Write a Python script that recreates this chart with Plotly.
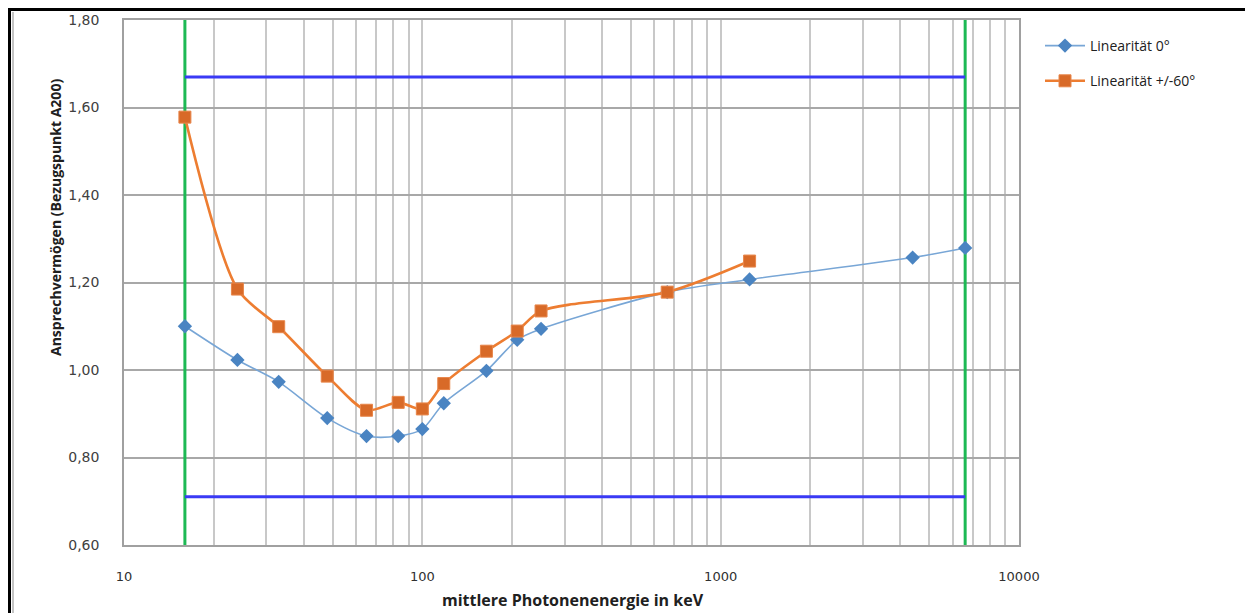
import plotly.graph_objects as go

# ---------------- data ----------------
energy_0 = [16, 24, 33, 48, 65, 83, 100, 118, 164, 208, 250, 662, 1250, 4400, 6600]
resp_0 = [1.10, 1.023, 0.973, 0.890, 0.849, 0.849, 0.865, 0.924, 0.998, 1.069, 1.094, 1.178, 1.207, 1.257, 1.279]

energy_60 = [16, 24, 33, 48, 65, 83, 100, 118, 164, 208, 250, 662, 1250]
resp_60 = [1.578, 1.185, 1.099, 0.986, 0.908, 0.926, 0.911, 0.969, 1.043, 1.089, 1.135, 1.178, 1.249]

limit_energy = [16, 6600]
limit_upper = [1.67, 1.67]
limit_lower = [0.71, 0.71]
limit_resp_range = [0.60, 1.80]

x_tick_vals = [10, 100, 1000, 10000]
x_tick_text = ["10", "100", "1000", "10000"]
y_tick_vals = [0.60, 0.80, 1.00, 1.20, 1.40, 1.60, 1.80]

series_names = ["Linearität 0°", "Linearität +/-60°"]
x_title = "mittlere Photonenenergie in keV"
y_title = "Ansprechvermögen (Bezugspunkt A200)"

# ---------------- layout helpers (page pixel coords, body margin 8px) ----------------
OFF = 8
W, H = 1253 - OFF, 613 - OFF
L, R, T, B = 124 - OFF, 1019 - OFF, 20 - OFF, 545 - OFF


def px(x):
    return (x - OFF - L) / (R - L)


def py(y):
    return (B - (y - OFF)) / (B - T)


# grid values incl. minor decades
grid_vals = []
grid_text = []
for dec in [10, 100, 1000]:
    for m in range(1, 10):
        v = dec * m
        grid_vals.append(v)
        grid_text.append(x_tick_text[x_tick_vals.index(v)] if v in x_tick_vals else "")
grid_vals.append(10000)
grid_text.append("10000")

fig = go.Figure()

# limit lines (green verticals, blue horizontals)
for e in limit_energy:
    fig.add_trace(go.Scatter(x=[e, e], y=limit_resp_range, mode="lines",
                             line=dict(color="#1DB954", width=3),
                             showlegend=False, hoverinfo="skip"))
fig.add_trace(go.Scatter(x=limit_energy, y=limit_upper, mode="lines",
                         line=dict(color="#3A3AF5", width=3),
                         showlegend=False, hoverinfo="skip"))
fig.add_trace(go.Scatter(x=limit_energy, y=limit_lower, mode="lines",
                         line=dict(color="#3A3AF5", width=3),
                         showlegend=False, hoverinfo="skip"))

fig.add_trace(go.Scatter(
    x=energy_0, y=resp_0, mode="lines+markers", name=series_names[0],
    line=dict(color="#78A6D6", width=1.6, shape="spline", smoothing=0.8),
    marker=dict(symbol="diamond", size=11, color="#4A84C2"),
    legendgroup="a"))
fig.add_trace(go.Scatter(
    x=energy_60, y=resp_60, mode="lines+markers", name=series_names[1],
    line=dict(color="#ED7D31", width=2.6, shape="spline", smoothing=0.8),
    marker=dict(symbol="square", size=12, color="#D86A28",
                line=dict(color="#E8864A", width=1)),
    legendgroup="b"))

fig.update_layout(
    width=W, height=H,
    margin=dict(l=L, r=W - R, t=T, b=H - B, autoexpand=False),
    paper_bgcolor="white", plot_bgcolor="white",
    font=dict(family="DejaVu Sans, sans-serif", size=14, color="#404040"),
    separators=",.",
    showlegend=True,
    legend=dict(x=px(1040), y=py(30), xanchor="left", yanchor="top",
                font=dict(size=14, color="#202020", family="Open Sans, sans-serif"),
                tracegroupgap=14, traceorder="grouped", itemwidth=40,
                bgcolor="rgba(0,0,0,0)", borderwidth=0),
)

fig.update_xaxes(
    type="log", range=[1, 4],
    tickvals=grid_vals, ticktext=grid_text,
    showgrid=True, gridcolor="#C8C8C8", gridwidth=1.5,
    showline=True, linecolor="#A0A0A0", linewidth=2, mirror=True,
    ticks="", ticklabelstandoff=18,
    tickfont=dict(size=13, color="#303030"),
    zeroline=False,
)
fig.update_yaxes(
    range=[0.60, 1.80],
    tickvals=y_tick_vals, tickformat=".2f",
    showgrid=True, gridcolor="#A8A8A8", gridwidth=1.5,
    showline=True, linecolor="#A0A0A0", linewidth=1.5, mirror=True,
    ticks="", ticklabelstandoff=20,
    tickfont=dict(size=14, color="#404040"),
    zeroline=False,
)

# axis titles
fig.add_annotation(text=f"<b>{x_title}</b>", xref="paper", yref="paper",
                   x=px(573), y=py(600), xanchor="center", yanchor="middle",
                   showarrow=False,
                   font=dict(size=16, color="#202020", family="Open Sans, sans-serif"))
fig.add_annotation(text=f"<b>{y_title}</b>", xref="paper", yref="paper",
                   x=px(56), y=py(218), xanchor="center", yanchor="middle",
                   showarrow=False, textangle=-90,
                   font=dict(size=14, color="#202020", family="Open Sans, sans-serif"))

# outer frame (top edge of the page area that the figure can reach)
fig.add_shape(type="line", xref="paper", yref="paper",
              x0=px(8), x1=px(1270), y0=py(9.5), y1=py(9.5),
              line=dict(color="black", width=3))
fig.add_shape(type="line", xref="paper", yref="paper",
              x0=px(9.5), x1=px(9.5), y0=py(8), y1=py(630),
              line=dict(color="black", width=3))
fig.add_shape(type="line", xref="paper", yref="paper",
              x0=px(13), x1=px(13), y0=py(12), y1=py(630),
              line=dict(color="#B0B0B0", width=1.5))

fig.write_html("out.html")
